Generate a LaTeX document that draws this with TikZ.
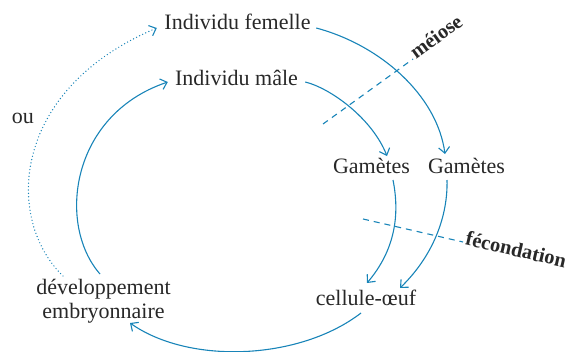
\documentclass[tikz,border=0pt]{standalone}
\usepackage{fontspec}
\setmainfont{Liberation Serif}
\usetikzlibrary{arrows.meta}
\definecolor{cycleblue}{RGB}{24,132,184}
\definecolor{ink}{RGB}{40,40,40}
\begin{document}
\begin{tikzpicture}[x=1pt,y=-1pt,
  lbl/.style={inner sep=0pt, text=ink, font=\fontsize{22}{24}\selectfont},
  tag/.style={inner sep=2pt, text=ink, font=\fontsize{20.5}{24}\selectfont\bfseries, anchor=mid west},
  flow/.style={draw=cycleblue, line width=1.1pt,
    -{Straight Barb[length=6pt,width=11pt,line width=1.1pt]}},
  alt/.style={flow, line cap=round, dash pattern=on 0pt off 3.4pt, line width=1.4pt},
  cut/.style={draw=cycleblue, line width=1.1pt, dash pattern=on 6pt off 5pt}]
\useasboundingbox (0,0) rectangle (569,351);

% stages of the life cycle
\node[lbl, anchor=base, minimum width=149pt] (fem) at (237.5,29.5) {Individu femelle};
\node[lbl, anchor=base, minimum width=127pt] (male) at (236.5,85) {Individu mâle};
\node[lbl, anchor=base, minimum width=77pt] (gamL) at (371.5,173) {Gamètes};
\node[lbl, anchor=base, minimum width=77pt] (gamR) at (466.5,173) {Gamètes};
\node[lbl, anchor=base, minimum width=102pt] (cell) at (366,305) {cellule-œuf};
\node[lbl, align=center, minimum width=137pt] (dev) at (103.5,301.5) {développement\\embryonnaire};
\node[lbl, anchor=base] (ou) at (23,123) {ou};

% cut lines for meiosis and fertilisation
\node[tag, rotate=36] (meiose) at (413,59) {méiose};
\node[tag, rotate=-13] (fecond) at (463,242) {fécondation};
\coordinate (mcut) at (323,124);
\coordinate (fcut) at (363,219);
\draw[cut] (mcut) -- (meiose.mid west);
\draw[cut] (fcut) -- (fecond.mid west);

% cycle arrows
\draw[flow] ([shift={(4,-1.5)}]fem.base east) .. controls (380,45) and (437,95) .. ([shift={(-21.5,-19)}]gamR.base);
\draw[flow] ([shift={(5,-3)}]male.base east) .. controls (330,88) and (372,118) .. ([shift={(15.5,-17)}]gamL.base);
\draw[flow] ([shift={(21.5,7)}]gamL.base) .. controls (400,215) and (395,250) .. ([shift={(1,-22)}]cell.base);
\draw[flow] ([shift={(-19.5,7)}]gamR.base) .. controls (448,215) and (434,255) .. ([shift={(34,-17)}]cell.base);
\draw[flow] ([shift={(-5,8)}]cell.base) .. controls (300,360) and (190,365) .. ([shift={(26.5,21.5)}]dev.center);
\draw[flow] ([shift={(-3.5,-27.5)}]dev.center) .. controls (57,225) and (70,115) .. ([shift={(-5,-3)}]male.base west);
\draw[alt] ([shift={(-40.5,-25.5)}]dev.center) .. controls (5,220) and (10,90) .. ([shift={(-6,-1.5)}]fem.base west);
\end{tikzpicture}
\end{document}
